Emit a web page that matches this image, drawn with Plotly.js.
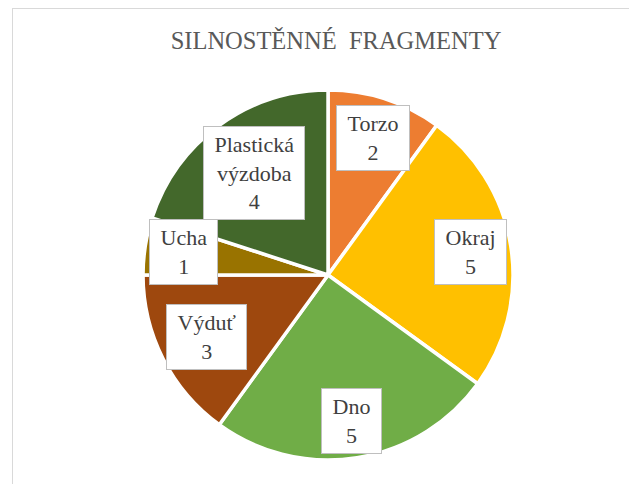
<!DOCTYPE html>
<html>
<head>
<meta charset="utf-8">
<script src="https://cdn.plot.ly/plotly-3.0.1.min.js"></script>
<style>
  html, body { margin: 0; padding: 0; background: #ffffff; }
  #chart { width: 629px; height: 484px; position: relative; }
  #frame { position: absolute; left: 12px; top: 8px; width: 800px; height: 700px;
           border-left: 1.5px solid #d9d9d9; border-top: 1.5px solid #d9d9d9;
           pointer-events: none; }
</style>
</head>
<body>
<div id="chart"></div>
<div id="frame"></div>
<script>
// ---- data ----
const categories = ["Torzo", "Okraj", "Dno", "Výduť", "Ucha", "Plastická<br>výzdoba"];
const values = [2, 5, 5, 3, 1, 4];
const chartTitle = "SILNOSTĚNNÉ  FRAGMENTY";

// ---- styles ----
const colors = ["#ED7D31", "#FFC000", "#70AD47", "#9E480E", "#997300", "#43682B"];
const labelRadius = [0.78, 0.78, 0.8, 0.74, 0.79, 0.68];
const serif = "'Liberation Serif', 'Times New Roman', serif";

const W = 629, H = 484;
const margin = { l: 0, r: 0, t: 90, b: 24 };
const domainX = [0.043, 1.0];
const plotW = W - margin.l - margin.r;
const plotH = H - margin.t - margin.b;

const cx = (domainX[0] + domainX[1]) / 2;
const cy = 0.5;
const radiusPx = Math.min((domainX[1] - domainX[0]) * plotW, plotH) / 2;

const pad = s => s.split("<br>").map(l => "\u00a0" + l + "\u00a0").join("<br>");

const total = values.reduce((a, b) => a + b, 0);
let cum = 0;
const annotations = values.map((v, i) => {
  const mid = (cum + v / 2) / total * 2 * Math.PI; // clockwise from 12 o'clock
  cum += v;
  const rp = radiusPx * labelRadius[i];
  return {
    xref: "paper", yref: "paper",
    x: cx + rp * Math.sin(mid) / plotW,
    y: cy + rp * Math.cos(mid) / plotH,
    xanchor: "center", yanchor: "middle",
    text: pad(categories[i] + "<br>" + v),
    showarrow: false,
    font: { family: serif, size: 22, color: "#404040" },
    bgcolor: "#ffffff",
    bordercolor: "#bfbfbf",
    borderwidth: 1,
    borderpad: 5,
    align: "center"
  };
});

const trace = {
  type: "pie",
  labels: categories,
  values: values,
  sort: false,
  direction: "clockwise",
  rotation: 0,
  textinfo: "none",
  hoverinfo: "label+value",
  marker: { colors: colors, line: { color: "#ffffff", width: 3.5 } },
  domain: { x: domainX, y: [0, 1] }
};

const layout = {
  width: W, height: H,
  margin: margin,
  paper_bgcolor: "#ffffff",
  showlegend: false,
  title: {
    text: chartTitle,
    font: { family: serif, size: 24.5, color: "#595959" },
    x: 336 / W, xanchor: "center",
    xref: "container", yref: "container",
    y: 1 - 40 / H, yanchor: "middle"
  },
  annotations: annotations
};

Plotly.newPlot("chart", [trace], layout, { displayModeBar: false, staticPlot: true });
</script>
</body>
</html>
